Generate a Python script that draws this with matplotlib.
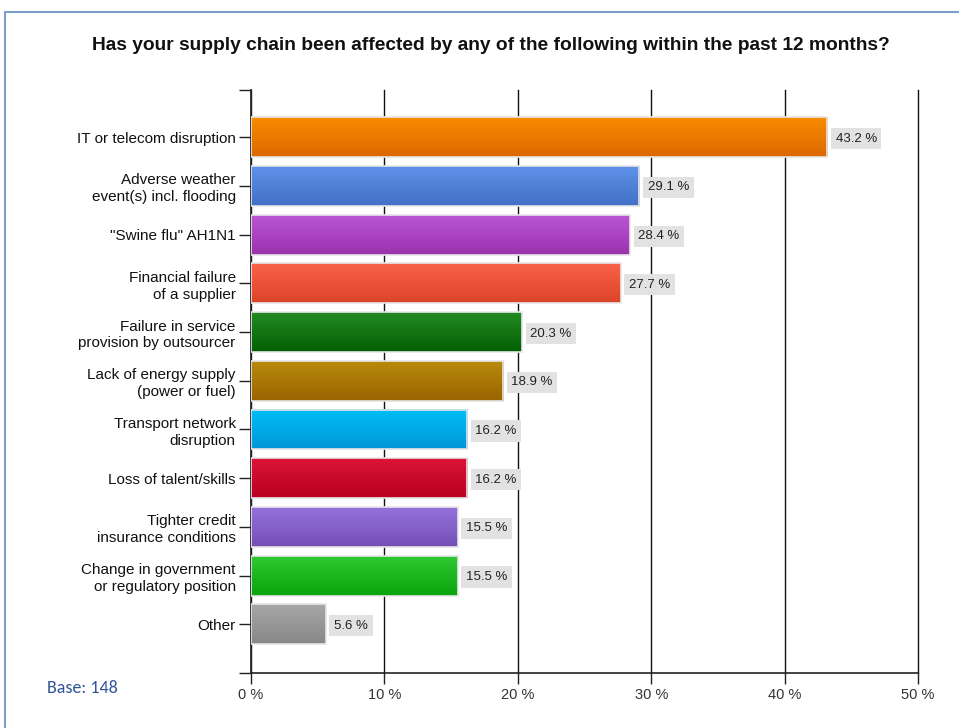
import matplotlib.pyplot as plt
import numpy as np
from matplotlib.colors import LinearSegmentedColormap
from matplotlib.patches import Rectangle

# Survey answers, top to bottom
categories = [
    'IT or telecom disruption',
    'Adverse weather\nevent(s) incl. flooding',
    '"Swine flu" AH1N1',
    'Financial failure\nof a supplier',
    'Failure in service\nprovision by outsourcer',
    'Lack of energy supply\n(power or fuel)',
    'Transport network\ndisruption',
    'Loss of talent/skills',
    'Tighter credit\ninsurance conditions',
    'Change in government\nor regulatory position',
    'Other',
]
valeurs = [43.2, 29.1, 28.4, 27.7, 20.3, 18.9, 16.2, 16.2, 15.5, 15.5, 5.6]
couleurs_haut = ['#fa8c00', '#5e92e8', '#bb55d2', '#f9624a', '#228a22', '#b88a0c',
                 '#00bef8', '#db1438', '#9470dc', '#30c830', '#a6a6a6']
couleurs_bas = ['#da6800', '#4270c6', '#9a32ae', '#dc4428', '#036003', '#9a6400',
                '#0096d6', '#b80020', '#7450b4', '#0ca40c', '#888888']
ticks_x = [0, 10, 20, 30, 40, 50]

plt.rcParams['font.family'] = ['Liberation Sans', 'DejaVu Sans']

fig = plt.figure(figsize=(9.59, 7.28), dpi=100)
ax = fig.add_axes([251 / 959, 1 - 673 / 728, 667 / 959, 583 / 728])

# cadre bleu autour du graphique
fig.patches.append(Rectangle((5 / 959, -0.05), 1.1, 1 - 12 / 728 + 0.05,
                             transform=fig.transFigure, fill=False,
                             edgecolor='#7c9ccc', linewidth=1.5))

haut = 0.82
y = np.arange(len(categories))
ax.barh(y, valeurs, height=haut, color='none', edgecolor='#e6e6e6',
        linewidth=1.2, zorder=4)

# dégradé vertical dans chaque barre
grad = np.linspace(0, 1, 64).reshape(-1, 1)
for i, v in enumerate(valeurs):
    cmap = LinearSegmentedColormap.from_list('g', [couleurs_haut[i], couleurs_bas[i]])
    ax.imshow(grad, cmap=cmap, aspect='auto', origin='upper',
              extent=[0, v, i + haut / 2, i - haut / 2], zorder=3)
    ax.annotate(f'{v} %', xy=(v, i), xytext=(6, 0), textcoords='offset points',
                va='center_baseline', ha='left', fontsize=9.5, color='#222222', zorder=5,
                bbox=dict(boxstyle='square,pad=0.35', fc='#e2e2e2', ec='none'))

ax.set_xlim(0, 50)
ax.set_ylim(11.0, -0.97)

ax.set_xticks(ticks_x)
ax.set_xticklabels([f'{t} %' for t in ticks_x], fontsize=10.5, color='#333333')
ax.set_yticks(list(y) + [-0.97, 11.0])
ax.set_yticklabels(categories + ['', ''], fontsize=11, color='#111111',
                   linespacing=1.25)
ax.tick_params(axis='y', length=9, width=1, color='#222222', pad=2)
ax.tick_params(axis='x', length=8, width=1, color='#222222', pad=3)

ax.grid(axis='x', color='#111111', linewidth=1)
for g in ax.get_xgridlines():
    g.set_clip_on(False)
ax.set_axisbelow(True)
for s in ['top', 'right']:
    ax.spines[s].set_visible(False)
for s in ['left', 'bottom']:
    ax.spines[s].set_color('#222222')
    ax.spines[s].set_linewidth(1.2)

fig.text(491 / 959, 1 - 45 / 728,
         'Has your supply chain been affected by any of the following within the past 12 months?',
         ha='center', va='center', fontsize=13.8, fontweight='bold', color='#111111')
fig.text(47 / 959, 1 - 688 / 728, 'Base: 148', ha='left', va='center',
         fontsize=13, color='#2f5597', family=['Carlito', 'Liberation Sans', 'DejaVu Sans'])

fig.savefig('out.png', dpi=100)
